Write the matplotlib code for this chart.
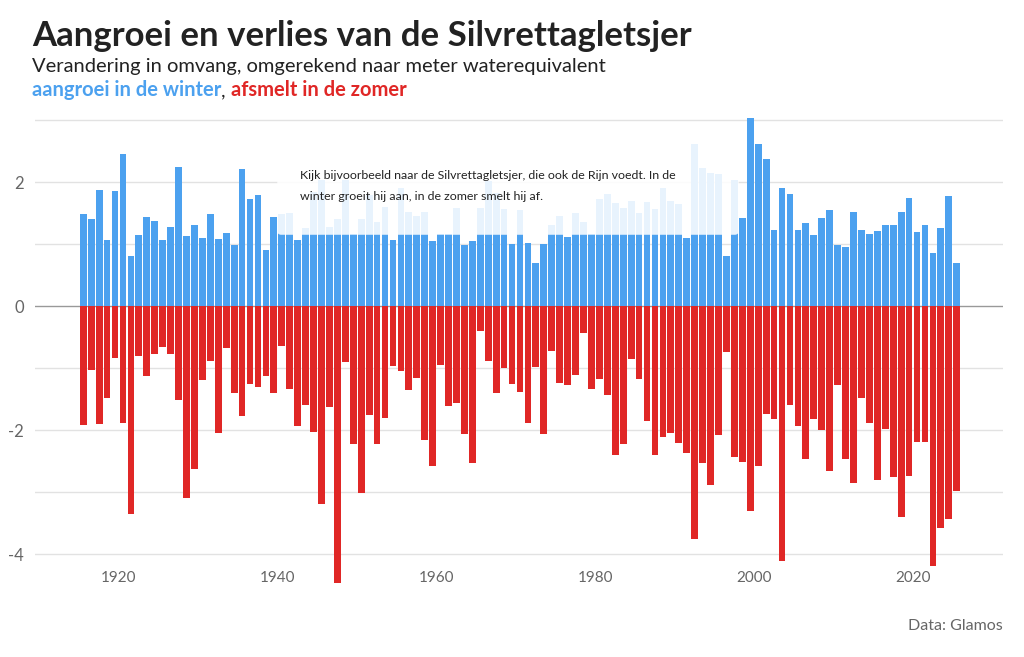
import numpy as np
import matplotlib.pyplot as plt
from matplotlib.patches import FancyBboxPatch

plt.rcParams['font.family'] = ['Lato', 'DejaVu Sans']

# jaren (hydrologisch jaar), 1915 t/m 2025
jaren = np.arange(1915, 2026)

# aangroei in de winter (m w.e.)
winter = [
    1.49, 1.41, 1.87, 1.06, 1.85,
    2.46, 0.81, 1.15, 1.44, 1.37, 1.06, 1.27, 2.25, 1.13, 1.31,
    1.10, 1.48, 1.08, 1.18, 0.99, 2.21, 1.73, 1.79, 0.91, 1.43,
    1.48, 1.50, 1.06, 1.26, 1.84, 2.03, 1.28, 1.41, 2.03, 1.17,
    1.41, 1.79, 1.36, 1.60, 1.06, 1.90, 1.51, 1.45, 1.52, 1.05,
    1.17, 1.17, 1.59, 0.99, 1.05, 1.59, 2.02, 1.82, 1.56, 1.00,
    1.55, 1.02, 0.69, 1.00, 1.31, 1.45, 1.11, 1.50, 1.35, 1.17,
    1.72, 1.81, 1.66, 1.59, 1.69, 1.50, 1.68, 1.56, 1.90, 1.69,
    1.64, 1.10, 2.62, 2.23, 2.15, 2.13, 0.81, 2.04, 1.42, 3.03,
    2.62, 2.37, 1.22, 1.90, 1.81, 1.23, 1.34, 1.15, 1.42, 1.55,
    0.99, 0.96, 1.52, 1.22, 1.16, 1.21, 1.31, 1.31, 1.52, 1.74,
    1.20, 1.30, 0.85, 1.26, 1.77, 0.70,
]

# afsmelt in de zomer (m w.e.)
zomer = [
    -1.92, -1.03, -1.90, -1.49, -0.84,
    -1.89, -3.36, -0.81, -1.13, -0.78, -0.66, -0.78, -1.52, -3.10, -2.63,
    -1.19, -0.88, -2.05, -0.68, -1.40, -1.77, -1.25, -1.31, -1.13, -1.41,
    -0.64, -1.34, -1.94, -1.59, -2.03, -3.19, -1.63, -4.47, -0.91, -2.22,
    -3.01, -1.76, -2.22, -1.80, -0.96, -1.05, -1.36, -1.16, -2.16, -2.58,
    -0.95, -1.62, -1.57, -2.06, -2.53, -0.40, -0.88, -1.41, -1.00, -1.26,
    -1.38, -1.88, -0.98, -2.07, -0.73, -1.24, -1.28, -1.12, -0.43, -1.34,
    -1.17, -1.44, -2.40, -2.22, -0.85, -1.17, -1.86, -2.41, -2.12, -2.04,
    -2.21, -2.37, -3.75, -2.53, -2.88, -2.08, -0.74, -2.44, -2.52, -3.31,
    -2.58, -1.74, -1.82, -4.11, -1.60, -1.94, -2.46, -1.82, -2.00, -2.66,
    -1.27, -2.47, -2.86, -1.49, -1.88, -2.80, -1.98, -2.75, -3.41, -2.74,
    -2.20, -2.19, -4.19, -3.58, -3.44, -2.98,
]

x_ticks = [1920, 1940, 1960, 1980, 2000, 2020]
y_ticks = [-4, -2, 0, 2]
y_labels = ['-4', '-2', '0', '2']

titel = 'Aangroei en verlies van de Silvrettagletsjer'
ondertitel = 'Verandering in omvang, omgerekend naar meter waterequivalent'
notitie = ['Kijk bijvoorbeeld naar de Silvrettagletsjer, die ook de Rijn voedt. In de',
           'winter groeit hij aan, in de zomer smelt hij af.']

blauw = '#4ca1ef'
rood = '#e02726'
grijs = '#666666'

fig = plt.figure(figsize=(10.24, 6.57), dpi=100)
ax = fig.add_axes([35 / 1024, (657 - 585) / 657, 968 / 1024, (585 - 117) / 657])
ax.set_xlim(1909.42, 2031.33)
ax.set_ylim(-4.5, 3.05)

# rasterlijnen
for y in range(-4, 4):
    ax.axhline(y, color='#999999' if y == 0 else '#e2e2e2', lw=1, zorder=0)

ax.bar(jaren + 0.5, winter, width=0.85, color=blauw, zorder=2)
ax.bar(jaren + 0.5, zomer, width=0.85, color=rood, zorder=2)

# witte notitie-box (half doorzichtig)
box = FancyBboxPatch((1939.93, 1.15), 1998.05 - 1939.93, 2.8 - 1.15,
                     boxstyle='round,pad=0,rounding_size=0.5',
                     mutation_aspect=7.94 / 62, fc='white', ec='none',
                     alpha=0.88, zorder=4)
ax.add_patch(box)
ax.text(1942.8, 2.11, notitie[0], fontsize=8.9, color='#222222', va='center', zorder=5)
ax.text(1942.8, 1.77, notitie[1], fontsize=8.9, color='#222222', va='center', zorder=5)

for s in ax.spines.values():
    s.set_visible(False)
ax.set_xticks(x_ticks)
ax.set_xticklabels([str(j) for j in x_ticks])
ax.set_yticks(y_ticks)
ax.set_yticklabels(y_labels)
ax.tick_params(axis='x', length=0, pad=-10, labelsize=11, labelcolor=grijs)
ax.tick_params(axis='y', length=0, pad=8, labelsize=12, labelcolor=grijs)

# titels
fig.text(32 / 1024, 1 - 46 / 657, titel, fontsize=25, fontweight='bold',
         color='#222222', va='baseline')
fig.text(32 / 1024, 1 - 72 / 657, ondertitel, fontsize=14.5, color='#222222', va='baseline')

fig.canvas.draw()
r = fig.canvas.get_renderer()
xpos = 32 / 1024
for tekst, kleur, gewicht in [('aangroei in de winter', blauw, 'bold'),
                              (', ', '#222222', 'normal'),
                              ('afsmelt in de zomer', rood, 'bold')]:
    t = fig.text(xpos, 1 - 96 / 657, tekst, fontsize=14.5, fontweight=gewicht,
                 color=kleur, va='baseline')
    bb = t.get_window_extent(renderer=r)
    xpos = bb.x1 / 1024

fig.text(1003 / 1024, 1 - 626 / 657, 'Data: Glamos', fontsize=11.5, color=grijs,
         ha='right', va='center')

fig.savefig('out.png', dpi=100)
